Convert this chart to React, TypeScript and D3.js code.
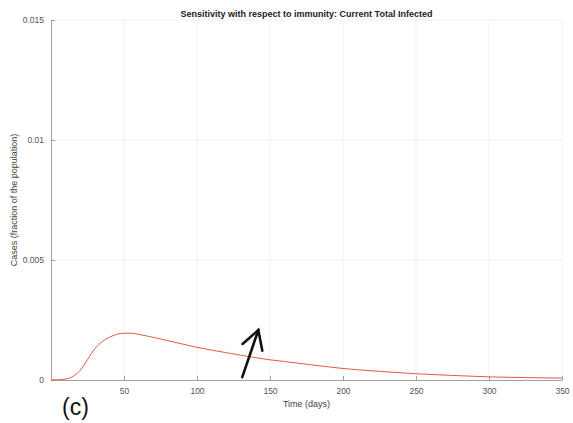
import React, { useEffect, useRef } from 'react';
import * as d3 from 'd3';

// time (days) and current total infected (fraction of population)
const days = [0, 5, 10, 15, 20, 25, 30, 35, 40, 45, 50, 55, 60, 70, 80, 90, 100, 120, 140, 150, 160, 180, 200, 225, 250, 275, 300, 325, 350];
const infected = [0, 0.00001, 0.00004, 0.00015, 0.0004, 0.00085, 0.0013, 0.0016, 0.00178, 0.0019, 0.00195, 0.00195, 0.0019, 0.00178, 0.00164, 0.0015, 0.00136, 0.00114, 0.00093, 0.00084, 0.00077, 0.00062, 0.00048, 0.00036, 0.00026, 0.00019, 0.00013, 0.0001, 0.00008];
const xTicks = [50, 100, 150, 200, 250, 300, 350];
const yTicks = [0, 0.005, 0.01, 0.015];
// arrow annotation in data units: [day, value]
const arrowFrom = [131, 0.00012];
const arrowTo = [142, 0.00208];

const App: React.FC = () => {
    const ref = useRef<SVGSVGElement | null>(null);

    useEffect(() => {
        if (!ref.current) return;
        const width = 573;
        const height = 423;
        const margin = { top: 20, right: 11, bottom: 43, left: 51 };

        const root = d3.select(ref.current);
        root.selectAll('*').remove();
        root.attr('width', width).attr('height', height);

        const x = d3.scaleLinear().domain([0, 350]).range([margin.left, width - margin.right]);
        const y = d3.scaleLinear().domain([0, 0.015]).range([height - margin.bottom, margin.top]);
        const font = 'Liberation Sans, Arial, sans-serif';

        // grid
        root.append('g')
            .selectAll('line')
            .data(xTicks)
            .enter()
            .append('line')
            .attr('x1', d => x(d)).attr('x2', d => x(d))
            .attr('y1', y(0)).attr('y2', y(0.015))
            .attr('stroke', '#ececec').attr('stroke-width', 0.8);
        root.append('g')
            .selectAll('line')
            .data(yTicks.slice(1))
            .enter()
            .append('line')
            .attr('x1', x(0)).attr('x2', x(350))
            .attr('y1', d => y(d)).attr('y2', d => y(d))
            .attr('stroke', '#ececec').attr('stroke-width', 0.8);

        // axes (MATLAB-style inward ticks)
        const xAxis = root.append('g')
            .attr('transform', `translate(0,${y(0)})`)
            .call(d3.axisBottom(x).tickValues(xTicks).tickSizeInner(-4).tickSizeOuter(0).tickPadding(8));
        const yAxis = root.append('g')
            .attr('transform', `translate(${x(0)},0)`)
            .call(d3.axisLeft(y).tickValues(yTicks).tickFormat(d => String(+d)).tickSizeInner(-4).tickSizeOuter(0).tickPadding(7));
        [xAxis, yAxis].forEach(g => {
            g.select('.domain').attr('stroke', '#8a8a8a').attr('stroke-width', 0.8);
            g.selectAll('.tick line').attr('stroke', '#8a8a8a').attr('stroke-width', 0.8);
            g.selectAll('.tick text').attr('fill', '#555').style('font-family', font).style('font-size', '8.5px');
        });

        // curve
        const line = d3.line<number>()
            .x((d, i) => x(days[i]))
            .y(d => y(d))
            .curve(d3.curveMonotoneX);
        root.append('path')
            .datum(infected)
            .attr('d', line)
            .attr('fill', 'none')
            .attr('stroke', '#e4574c')
            .attr('stroke-width', 1);

        // arrow
        const x0 = x(arrowFrom[0]), y0 = y(arrowFrom[1]);
        const x1 = x(arrowTo[0]), y1 = y(arrowTo[1]);
        const ang = Math.atan2(y1 - y0, x1 - x0);
        const head = 21;
        const spread = 0.52;
        const arrow = root.append('g').attr('stroke', '#111').attr('stroke-width', 2.6).attr('fill', 'none').attr('stroke-linecap', 'round');
        arrow.append('line').attr('x1', x0).attr('y1', y0).attr('x2', x1).attr('y2', y1);
        arrow.append('polyline')
            .attr('points', [
                [x1 - head * Math.cos(ang - spread), y1 - head * Math.sin(ang - spread)],
                [x1, y1],
                [x1 - head * Math.cos(ang + spread), y1 - head * Math.sin(ang + spread)],
            ].map(p => p.join(',')).join(' '))
            .attr('stroke-linejoin', 'miter');

        // texts
        root.append('text')
            .attr('x', (x(0) + x(350)) / 2)
            .attr('y', 17)
            .attr('text-anchor', 'middle')
            .style('font-family', font)
            .style('font-size', '9px')
            .style('font-weight', 'bold')
            .attr('fill', '#222')
            .text('Sensitivity with respect to immunity: Current Total Infected');
        root.append('text')
            .attr('x', (x(0) + x(350)) / 2)
            .attr('y', 407)
            .attr('text-anchor', 'middle')
            .style('font-family', font)
            .style('font-size', '9px')
            .attr('fill', '#444')
            .text('Time (days)');
        root.append('text')
            .attr('transform', `translate(17,${(y(0) + y(0.015)) / 2}) rotate(-90)`)
            .attr('text-anchor', 'middle')
            .style('font-family', font)
            .style('font-size', '9px')
            .attr('fill', '#444')
            .text('Cases (fraction of the population)');
        root.append('text')
            .attr('x', 62)
            .attr('y', 415)
            .style('font-family', font)
            .style('font-size', '23px')
            .attr('fill', '#111')
            .text('(c)');
    }, []);

    return <svg ref={ref} style={{ position: 'absolute', left: 0, top: 0, background: '#fff' }} />;
};

export default App;
